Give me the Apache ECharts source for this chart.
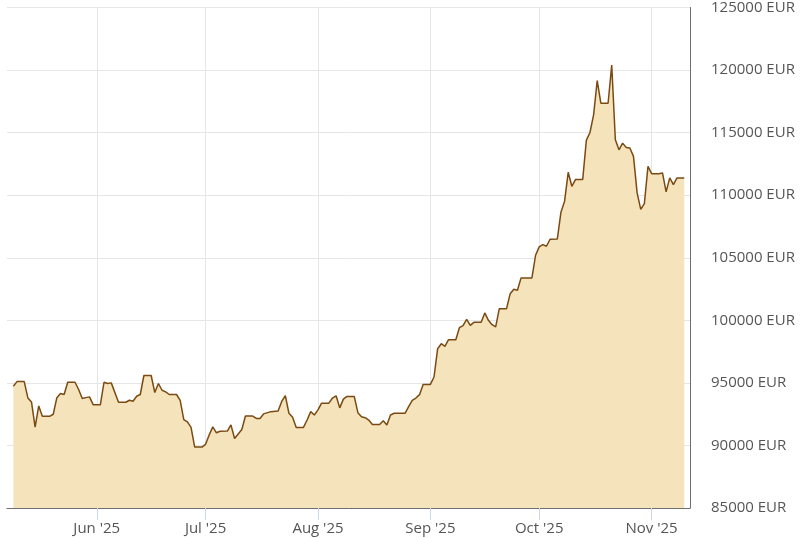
<!DOCTYPE html>
<html>
<head>
<meta charset="utf-8">
<script src="https://cdn.jsdelivr.net/npm/echarts@6/dist/echarts.min.js"></script>
<style>
  html, body { margin: 0; padding: 0; background: #ffffff; }
  #chart { width: 806px; height: 538px; }
</style>
</head>
<body>
<div id="chart"></div>
<script>
// Dates of the line's vertices
const dates = [
  '2025-05-09','2025-05-10','2025-05-12','2025-05-13','2025-05-14','2025-05-15','2025-05-16','2025-05-17',
  '2025-05-19','2025-05-20','2025-05-21','2025-05-22','2025-05-23','2025-05-24','2025-05-26','2025-05-27',
  '2025-05-28','2025-05-29','2025-05-30','2025-05-31','2025-06-02','2025-06-03','2025-06-04','2025-06-05',
  '2025-06-07','2025-06-09','2025-06-10','2025-06-11','2025-06-12','2025-06-13','2025-06-14','2025-06-16',
  '2025-06-17','2025-06-18','2025-06-19','2025-06-20','2025-06-21','2025-06-23','2025-06-24','2025-06-25',
  '2025-06-26','2025-06-27','2025-06-28','2025-06-30','2025-07-01','2025-07-02','2025-07-03','2025-07-04',
  '2025-07-05','2025-07-07','2025-07-08','2025-07-09','2025-07-11','2025-07-12','2025-07-14','2025-07-15',
  '2025-07-16','2025-07-17','2025-07-19','2025-07-21','2025-07-22','2025-07-23','2025-07-24','2025-07-25',
  '2025-07-26','2025-07-28','2025-07-29','2025-07-30','2025-07-31','2025-08-01','2025-08-02','2025-08-04',
  '2025-08-05','2025-08-06','2025-08-07','2025-08-08','2025-08-09','2025-08-11','2025-08-12','2025-08-13',
  '2025-08-14','2025-08-15','2025-08-16','2025-08-18','2025-08-19','2025-08-20','2025-08-21','2025-08-22',
  '2025-08-25','2025-08-26','2025-08-27','2025-08-28','2025-08-29','2025-08-30','2025-09-01','2025-09-02',
  '2025-09-03','2025-09-04','2025-09-05','2025-09-06','2025-09-08','2025-09-09','2025-09-10','2025-09-11',
  '2025-09-12','2025-09-13','2025-09-15','2025-09-16','2025-09-17','2025-09-18','2025-09-19','2025-09-20',
  '2025-09-22','2025-09-23','2025-09-24','2025-09-25','2025-09-26','2025-09-29','2025-09-30','2025-10-01',
  '2025-10-02','2025-10-03','2025-10-04','2025-10-06','2025-10-07','2025-10-08','2025-10-09','2025-10-10',
  '2025-10-11','2025-10-13','2025-10-14','2025-10-15','2025-10-16','2025-10-17','2025-10-18','2025-10-20',
  '2025-10-21','2025-10-22','2025-10-23','2025-10-24','2025-10-25','2025-10-26','2025-10-27','2025-10-28',
  '2025-10-29','2025-10-30','2025-10-31','2025-11-01','2025-11-03','2025-11-04','2025-11-05','2025-11-06',
  '2025-11-07','2025-11-08','2025-11-10'
];

// Price in EUR at each vertex
const prices = [
  94730, 95100, 95100, 93800, 93480, 91470, 93160, 92330,
  92330, 92490, 93820, 94150, 94070, 95050, 95050, 94470,
  93750, 93820, 93880, 93260, 93260, 95050, 94950, 95000,
  93450, 93450, 93610, 93530, 93930, 94070, 95590, 95590,
  94230, 94950, 94410, 94280, 94070, 94070, 93600, 92070,
  91880, 91450, 89870, 89870, 90090, 90840, 91480, 91010,
  91130, 91150, 91640, 90550, 91270, 92350, 92350, 92160,
  92160, 92520, 92700, 92760, 93520, 93970, 92570, 92250,
  91440, 91440, 92030, 92700, 92430, 92840, 93380, 93380,
  93790, 93970, 93000, 93700, 93920, 93920, 92620, 92300,
  92220, 92030, 91680, 91680, 91980, 91630, 92430, 92570,
  92570, 93110, 93600, 93790, 94060, 94880, 94880, 95470,
  97730, 98130, 97920, 98450, 98450, 99410, 99570, 100080,
  99600, 99840, 99840, 100590, 100000, 99650, 99470, 100930,
  100930, 102130, 102480, 102400, 103390, 103390, 105200, 105870,
  106050, 105920, 106480, 106500, 108640, 109520, 111830, 110710,
  111250, 111250, 114380, 115010, 116420, 119150, 117350, 117350,
  120400, 114430, 113630, 114160, 113820, 113770, 113100, 110180,
  108860, 109330, 112310, 111720, 111720, 111780, 110260, 111380,
  110850, 111380, 111380
];

// Y axis scale
const yMin = 85000;
const yMax = 125000;
const yStep = 5000;
const yUnit = 'EUR';

const monthNames = ['Jan','Feb','Mar','Apr','May','Jun','Jul','Aug','Sep','Oct','Nov','Dec'];

const chart = echarts.init(document.getElementById('chart'), null, { renderer: 'canvas' });

const option = {
  animation: false,
  backgroundColor: '#ffffff',
  textStyle: { fontFamily: 'Open Sans' },
  grid: { left: 7, right: 116, top: 7, bottom: 30, containLabel: false },
  xAxis: {
    type: 'time',
    min: new Date(2025, 4, 7, 6, 0).getTime(),
    max: new Date(2025, 10, 11, 14, 0).getTime(),
    splitNumber: 6,
    boundaryGap: false,
    axisLine: { show: true, lineStyle: { color: '#6e6e6e', width: 1 } },
    axisTick: { show: true, length: 12, lineStyle: { color: '#ccd6eb', width: 1 } },
    splitLine: { show: true, showMinLine: false, showMaxLine: false, lineStyle: { color: '#e6e6e6', width: 1 } },
    axisLabel: {
      showMinLabel: false,
      showMaxLabel: false,
      color: '#555555',
      fontSize: 15,
      fontFamily: 'Open Sans',
      margin: 13,
      hideOverlap: false,
      formatter: function (value) {
        const d = new Date(value);
        if (d.getDate() !== 1) return '';
        return monthNames[d.getMonth()] + " '" + String(d.getFullYear()).slice(2);
      }
    }
  },
  yAxis: {
    type: 'value',
    position: 'right',
    min: yMin,
    max: yMax,
    interval: yStep,
    axisLine: { show: true, lineStyle: { color: '#6e6e6e', width: 1 } },
    axisTick: { show: false },
    splitLine: { show: true, lineStyle: { color: '#e6e6e6', width: 1 } },
    axisLabel: {
      color: '#555555',
      fontSize: 15,
      fontFamily: 'Open Sans',
      margin: 21,
      align: 'left',
      formatter: function (v) { return v + ' ' + yUnit; }
    }
  },
  series: [{
    type: 'line',
    data: dates.map((d, i) => [d, prices[i]]),
    showSymbol: false,
    symbol: 'none',
    smooth: false,
    lineStyle: { color: '#7b4a12', width: 1.5 },
    areaStyle: { color: '#f4e3bb', opacity: 1, origin: 'start' },
    z: 2
  }]
};

chart.setOption(option);
</script>
</body>
</html>
